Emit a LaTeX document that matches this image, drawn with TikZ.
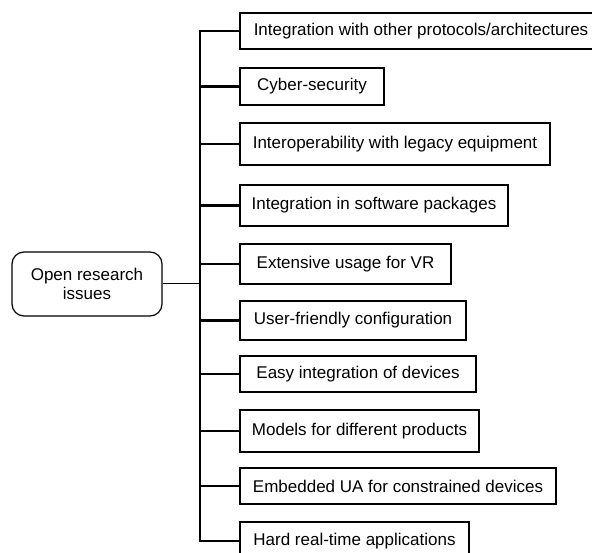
\documentclass[tikz,border=0pt]{standalone}
\usepackage{fontspec}
\setmainfont{Liberation Sans}
\begin{document}
\begin{tikzpicture}[x=1pt,y=-1pt,
  box/.style={draw,line width=1.2pt,rectangle,inner sep=0pt,font=\fontsize{17}{19}\selectfont},
  root/.style={draw,line width=1.2pt,rounded corners=12pt,inner sep=0pt,align=center,font=\fontsize{17}{19.5}\selectfont,minimum width=150pt,minimum height=64pt},
  bus/.style={line width=2.8pt},
  link/.style={line width=1pt}]
\useasboundingbox (0,0) rectangle (592,553);
\fill[white] (0,0) rectangle (592,553);
\node[root] (main) at (87,284) {Open research\\issues};
\node[box,minimum width=362pt,minimum height=36pt] (b1) at (421,31) {Integration with other protocols/architectures};
\node[box,minimum width=144pt,minimum height=37pt] (b2) at (312,86.5) {Cyber-security};
\node[box,minimum width=310pt,minimum height=42pt] (b3) at (395,144) {Interoperability with legacy equipment};
\node[box,minimum width=268pt,minimum height=41pt] (b4) at (374,205.5) {Integration in software packages};
\node[box,minimum width=211pt,minimum height=40pt] (b5) at (345.5,264) {Extensive usage for VR};
\node[box,minimum width=226pt,minimum height=39pt] (b6) at (353,320.5) {User-friendly configuration};
\node[box,minimum width=236pt,minimum height=36pt] (b7) at (358,374) {Easy integration of devices};
\node[box,minimum width=239pt,minimum height=42pt] (b8) at (359.5,431) {Models for different products};
\node[box,minimum width=316pt,minimum height=36pt] (b9) at (398,486) {Embedded UA for constrained devices};
\node[box,minimum width=229pt,minimum height=38pt] (b10) at (354.5,541) {Hard real-time applications};
\coordinate (bx) at (200,0);
\draw[bus] (b1.west) -- (b1.west -| bx) -- (b10.west -| bx) -- (b10.west);
\foreach \b in {b2,b3,b4,b5,b6,b7,b8,b9}
  \draw[bus] (\b.west) -- (\b.west -| bx);
\draw[link] (main.east) -- (main.east -| bx);
\end{tikzpicture}
\end{document}
